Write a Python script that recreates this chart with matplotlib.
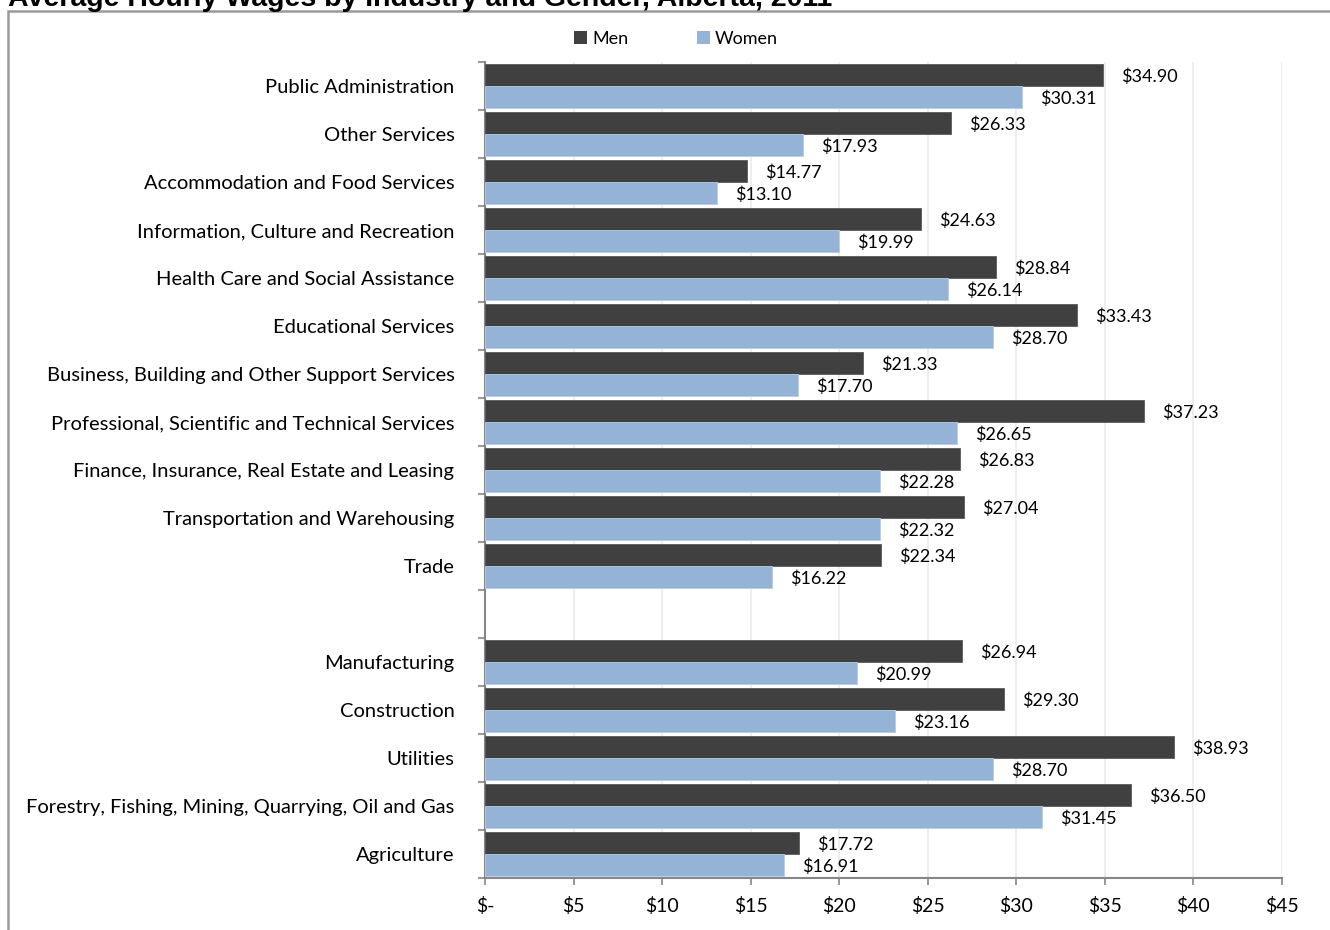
import matplotlib.pyplot as plt
from matplotlib.patches import Patch, Rectangle
from matplotlib.ticker import FixedLocator, FuncFormatter
import numpy as np

industries = ['Public Administration', 'Other Services', 'Accommodation and Food Services',
              'Information, Culture and Recreation', 'Health Care and Social Assistance',
              'Educational Services', 'Business, Building and Other Support Services',
              'Professional, Scientific and Technical Services',
              'Finance, Insurance, Real Estate and Leasing', 'Transportation and Warehousing',
              'Trade', '', 'Manufacturing', 'Construction', 'Utilities',
              'Forestry, Fishing, Mining, Quarrying, Oil and Gas', 'Agriculture']
men = [34.90, 26.33, 14.77, 24.63, 28.84, 33.43, 21.33, 37.23, 26.83, 27.04, 22.34,
       None, 26.94, 29.30, 38.93, 36.50, 17.72]
women = [30.31, 17.93, 13.10, 19.99, 26.14, 28.70, 17.70, 26.65, 22.28, 22.32, 16.22,
         None, 20.99, 23.16, 28.70, 31.45, 16.91]
xticks = [0, 5, 10, 15, 20, 25, 30, 35, 40, 45]

men_color = '#404040'
women_color = '#95b3d7'
label_font = 'Lato'

W, H = 1330, 930
fig = plt.figure(figsize=(W / 100, H / 100), dpi=100)
ax = fig.add_axes([485 / W, 1 - 878 / H, (1282 - 485) / W, (878 - 62) / H])

pos = np.arange(len(industries))
bh = 0.46
for i, (m, w) in enumerate(zip(men, women)):
    if m is None:
        continue
    ax.barh(i - bh / 2, m, height=bh, color=men_color, edgecolor='#5a5a5a', linewidth=0.6, zorder=3)
    ax.barh(i + bh / 2, w, height=bh, color=women_color, edgecolor='#b8cce4', linewidth=0.6, zorder=3)
    ax.annotate(f'${m:.2f}', (m, i - bh / 2 + 0.03), xytext=(13, 0), textcoords='offset points',
                va='center', ha='left', fontsize=13, family=label_font)
    ax.annotate(f'${w:.2f}', (w, i + bh / 2 + 0.03), xytext=(13, 0), textcoords='offset points',
                va='center', ha='left', fontsize=13, family=label_font)

ax.set_xlim(0, 45)
ax.set_ylim(len(industries) - 0.5, -0.5)
ax.set_xticks(xticks)
ax.xaxis.set_major_formatter(FuncFormatter(lambda v, p: '$-' if v == 0 else f'${v:g}'))
ax.set_yticks(pos)
ax.set_yticklabels(industries)
ax.yaxis.set_minor_locator(FixedLocator(np.arange(len(industries) + 1) - 0.5))
ax.tick_params(axis='y', which='major', length=0, pad=22, labelsize=14.5)
ax.tick_params(axis='y', which='minor', length=5, color='#868686', width=1.2)
ax.tick_params(axis='x', which='major', length=5, color='#868686', width=1.2, pad=9, labelsize=14)
for lab in ax.get_yticklabels() + ax.get_xticklabels():
    lab.set_family(label_font)

ax.grid(axis='x', color='#ebebeb', linewidth=1.2, zorder=0)
for s in ['top', 'right']:
    ax.spines[s].set_visible(False)
for s in ['left', 'bottom']:
    ax.spines[s].set_color('#868686')
    ax.spines[s].set_linewidth(1.5)

handles = [Patch(facecolor=men_color, label='Men'), Patch(facecolor=women_color, label='Women')]
fig.legend(handles=handles, loc='center', bbox_to_anchor=(676 / W, 1 - 39 / H), ncol=2,
           frameon=False, handlelength=0.7, handleheight=0.7, handletextpad=0.3,
           columnspacing=3.8, prop={'family': label_font, 'size': 13})

fig.add_artist(Rectangle((8 / W, -0.05), 1.1, 1.05 - 11 / H, transform=fig.transFigure,
                         fill=False, edgecolor='#9a9a9a', linewidth=1.8))
fig.text(8 / W, 1 - 5.5 / H, 'Average Hourly Wages by Industry and Gender, Alberta, 2011',
         family='Liberation Sans', fontweight='bold', fontsize=20.5, va='baseline', ha='left')

fig.savefig('out.png', dpi=100)
